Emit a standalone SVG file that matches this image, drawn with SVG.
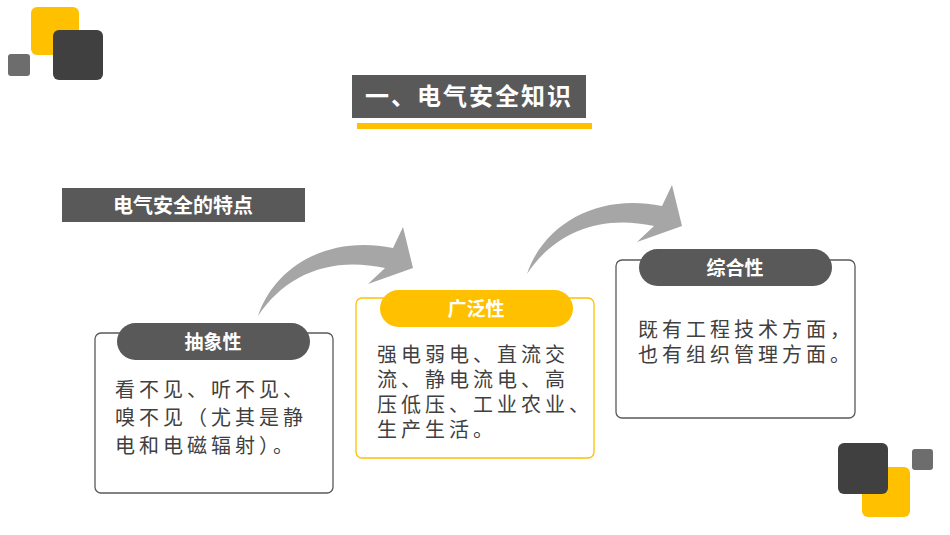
<svg xmlns="http://www.w3.org/2000/svg" width="950" height="535" viewBox="0 0 950 535">
<style>
.w{font-family:"Noto Sans CJK SC","Noto Sans",sans-serif;font-weight:bold;fill:#fff}
.t{font-family:"Noto Sans CJK SC","Noto Sans",sans-serif;font-size:20px;fill:#404040;letter-spacing:4px}
.card{fill:#fff;stroke:#595959;stroke-width:1.3}
.card.y{stroke:#ffc000}
.arr{fill:#a6a6a6}
</style>
<rect width="950" height="535" fill="#fff"/>
<g id="deco-tl">
<rect x="31" y="7" width="48" height="48" rx="6" fill="#ffc000"/>
<rect x="53" y="30" width="50" height="50" rx="6" fill="#404040"/>
<rect x="8" y="54" width="22" height="22" rx="3" fill="#6d6d6d"/>
</g>
<g id="deco-br">
<rect x="862" y="467" width="48" height="50" rx="6" fill="#ffc000"/>
<rect x="838" y="443" width="50" height="51" rx="6" fill="#404040"/>
<rect x="912" y="449" width="21" height="21" rx="3" fill="#6d6d6d"/>
</g>
<g id="title">
<rect x="352" y="75" width="234" height="43" fill="#595959"/>
<rect x="357" y="123" width="235" height="6" fill="#ffc000"/>
<text x="469" y="105" class="w" font-size="24" text-anchor="middle" letter-spacing="2">一、电气安全知识</text>
</g>
<g id="subtitle">
<rect x="62" y="188" width="243" height="34" fill="#595959"/>
<text x="183" y="213" class="w" font-size="20" text-anchor="middle">电气安全的特点</text>
</g>
<g id="connectors">
<path class="arr" d="M258,316 C275,265 330,235 393,248 L403,227 L413,268 L368,284 L385,268 C330,256 285,275 258,316 Z"/>
<path class="arr" transform="translate(269,-42)" d="M258,316 C275,265 330,235 393,248 L403,227 L413,268 L368,284 L385,268 C330,256 285,275 258,316 Z"/>
</g>
<g id="node-left">
<rect class="card" x="95" y="333" width="238" height="160" rx="6"/>
<rect x="117" y="323" width="193" height="37" rx="18.5" fill="#595959"/>
<text x="213" y="349" class="w" font-size="19" text-anchor="middle">抽象性</text>
<text class="t" x="115" y="397">看不见、听不见、</text>
<text class="t" x="115" y="425">嗅不见（尤其是静</text>
<text class="t" x="115" y="453">电和电磁辐射）。</text>
</g>
<g id="node-mid">
<rect class="card y" x="356" y="298" width="238" height="160" rx="6"/>
<rect x="380" y="290" width="193" height="37" rx="18.5" fill="#ffc000"/>
<text x="476" y="316" class="w" font-size="19" text-anchor="middle">广泛性</text>
<text class="t" x="377" y="362" letter-spacing="3">强电弱电、直流交</text>
<text class="t" x="377" y="387" letter-spacing="3">流、静电流电、高</text>
<text class="t" x="377" y="412" letter-spacing="3">压低压、工业农业、</text>
<text class="t" x="377" y="437" letter-spacing="3">生产生活。</text>
</g>
<g id="node-right">
<rect class="card" x="616" y="260" width="239" height="158" rx="6"/>
<rect x="639" y="249" width="193" height="37" rx="18.5" fill="#595959"/>
<text x="735" y="275" class="w" font-size="19" text-anchor="middle">综合性</text>
<text class="t" x="638" y="337" letter-spacing="3">既有工程技术方面，</text>
<text class="t" x="638" y="362" letter-spacing="3">也有组织管理方面。</text>
</g>
</svg>
